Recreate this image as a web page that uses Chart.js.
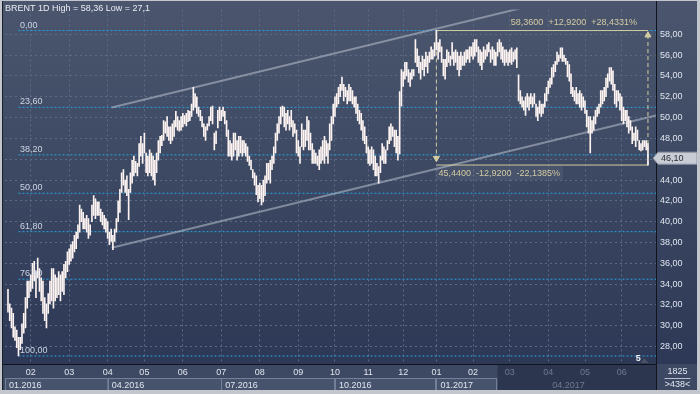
<!DOCTYPE html>
<html><head><meta charset="utf-8">
<script src="https://cdn.jsdelivr.net/npm/chart.js@4/dist/chart.umd.min.js"></script>
<style>html,body{margin:0;padding:0;background:#c3c7cd;}#wrap{width:700px;height:394px;position:relative;}</style>
</head><body><div id="wrap"><canvas id="c" width="700" height="394"></canvas></div>
<script>
// ---- daily bar highs (Jan 2016 .. Jun 2017), one line per month ----
const highs = [
33.5,32.1,31.7,31.2,29.9,29.6,28.9,28.9,30.2,31.2,32.7,34.3,34.3,
34.9,36.0,36.2,35.2,36.5,35.5,34.6,34.3,32.7,32.1,33.1,34.3,35.5,35.5,34.9,34.6,35.2,34.9,35.2,35.9,36.2,37.1,
37.4,37.8,38.1,38.7,39.0,39.7,41.6,41.2,40.9,40.3,40.6,40.3,39.7,41.6,42.5,42.2,41.9,41.9,41.2,40.9,40.6,40.3,
40.0,39.0,39.3,38.7,39.3,40.3,42.0,43.1,44.7,45.0,44.0,44.4,43.1,44.7,45.9,46.3,45.8,45.6,47.5,48.2,47.5,
48.5,46.6,46.3,46.9,46.6,46.3,45.9,46.6,47.8,48.2,48.3,49.7,49.6,50.1,49.1,49.1,49.4,49.7,50.6,50.1,49.7,50.1,
50.4,50.2,50.4,50.7,50.6,51.3,52.9,52.3,52.0,51.0,50.7,50.1,49.4,49.1,49.4,50.1,51.0,51.1,48.5,48.7,50.7,51.0,
50.7,51.0,50.6,49.7,48.8,47.8,47.5,48.5,48.5,47.8,48.2,48.2,47.8,47.8,47.5,47.2,46.3,45.9,45.0,44.7,44.4,43.5,
43.7,43.5,44.0,44.4,45.6,45.6,45.9,46.3,47.2,48.5,49.4,50.1,51.0,51.1,51.0,50.4,50.7,50.1,50.7,49.7,49.4,48.8,
47.8,47.2,49.4,48.8,48.8,50.1,49.7,48.5,47.5,46.9,46.6,46.3,46.9,47.2,47.8,48.2,47.8,47.5,49.4,50.1,51.3,
52.0,52.3,52.9,53.2,53.9,53.2,52.9,52.6,53.2,52.9,52.6,52.0,52.0,51.3,50.7,50.4,49.7,49.1,48.2,
47.2,46.9,47.2,46.9,46.3,45.6,45.3,46.3,47.5,47.2,46.9,47.8,49.1,49.4,49.1,48.8,48.8,48.2,52.5,54.6,
54.4,55.3,55.3,54.6,54.3,54.6,54.6,57.5,56.6,55.9,55.3,55.9,55.6,56.3,55.9,56.3,56.8,56.5,57.2,
58.36,57.2,57.5,56.8,55.6,55.6,56.5,56.3,55.9,57.2,56.3,56.5,56.3,55.9,56.3,55.9,56.3,56.5,56.5,56.8,56.8,
57.2,57.5,57.5,56.8,56.5,56.3,56.8,56.5,57.0,57.2,56.5,56.8,56.5,56.3,57.2,57.5,57.2,56.8,56.5,56.5,56.3,
56.5,56.7,56.3,56.5,56.7,54.1,52.6,52.0,51.6,52.0,52.3,52.0,52.3,52.0,52.3,51.3,51.0,51.6,51.3,51.3,52.3,52.9,
53.5,53.8,54.8,55.1,55.4,56.3,56.0,56.7,56.7,56.0,55.7,55.4,55.1,54.2,52.9,52.6,52.9,52.3,52.6,52.3,52.0,
51.6,50.7,50.1,50.1,49.7,50.1,50.7,51.0,51.3,52.6,52.6,52.9,53.8,54.2,54.8,54.8,54.5,53.2,52.6,52.6,52.3,
52.0,51.0,50.7,50.7,50.1,49.7,49.1,48.5,49.1,48.8,47.8,47.5,47.8,47.8,47.8,47.5
];
// ---- daily bar lows ----
const lows = [
31.3,30.5,29.8,28.9,28.6,27.9,27.1,27.7,28.3,29.3,29.8,31.7,32.7,
33.3,33.6,34.3,32.7,34.6,33.3,32.4,31.2,30.5,29.8,31.2,32.1,32.4,31.7,32.4,32.7,33.0,32.4,33.3,33.0,34.6,35.2,
35.9,36.2,36.5,37.1,37.4,38.4,39.0,40.0,39.3,39.3,39.0,38.4,38.7,40.0,40.6,40.3,40.6,40.6,40.0,39.7,39.3,39.0,
38.4,37.8,38.1,37.3,38.1,39.0,40.0,40.9,42.8,43.5,42.8,42.5,40.2,42.8,43.7,44.4,44.7,44.4,45.3,46.3,45.6,
46.6,44.7,44.4,44.7,44.4,44.0,43.5,44.7,45.9,46.6,47.3,47.8,48.5,48.2,47.8,47.5,47.8,48.2,49.1,48.8,48.7,48.8,
49.1,49.4,49.2,49.6,49.7,50.1,50.7,51.0,50.4,50.1,49.7,49.1,48.2,47.8,48.8,49.2,49.7,49.4,46.9,47.5,49.0,49.7,
49.7,50.1,49.4,48.2,46.3,46.3,45.9,46.3,46.9,45.9,46.3,46.6,46.3,46.6,46.3,45.8,45.4,45.0,44.2,43.5,42.6,41.9,
42.2,41.6,41.9,42.5,43.7,44.0,43.7,45.0,45.6,46.6,47.8,48.5,49.4,50.1,49.1,48.8,49.4,48.8,49.1,48.2,48.5,46.6,
46.3,45.6,47.2,46.9,47.2,47.8,46.9,46.9,45.6,45.6,45.6,45.4,45.0,45.6,45.9,45.6,46.3,45.6,46.9,47.8,49.4,
50.1,51.0,51.3,52.0,52.6,51.6,52.0,51.3,51.6,51.6,51.3,51.0,50.4,49.7,49.4,48.8,47.8,47.5,46.6,
45.6,45.4,45.6,45.0,44.4,44.4,43.7,44.7,45.9,45.6,45.6,46.9,47.5,47.8,48.2,47.2,46.6,45.9,46.5,51.1,
53.0,53.7,54.0,53.4,53.0,53.7,54.0,55.3,54.9,54.3,53.7,54.6,54.0,54.9,54.3,55.3,55.6,55.6,55.9,
56.5,55.6,56.3,55.3,54.0,53.7,54.9,55.3,55.0,55.6,55.0,55.3,54.6,54.0,54.6,55.0,55.0,55.3,55.6,55.3,55.9,
55.6,55.9,56.3,55.3,55.0,54.6,55.3,55.6,55.9,56.3,55.3,55.6,55.0,55.0,55.9,56.3,55.6,55.3,55.0,55.3,55.0,
55.3,55.1,55.4,55.6,54.8,51.6,51.3,51.0,50.7,50.2,51.0,50.7,51.3,51.0,51.3,50.1,49.7,50.4,50.1,50.4,51.0,51.6,
52.3,52.9,53.2,53.9,54.4,55.1,55.4,55.7,55.4,55.4,55.1,53.9,53.5,52.3,52.0,51.6,51.3,51.3,51.0,50.7,51.0,
50.4,49.1,48.5,46.6,48.5,48.8,49.4,50.1,50.4,51.0,51.3,51.6,52.0,52.9,53.5,53.2,52.6,51.3,51.0,51.6,50.7,
49.7,49.4,49.7,49.1,48.5,48.8,47.5,47.8,47.2,47.8,46.9,46.8,46.9,47.2,46.9,45.44
];
const lastPrice = 46.10;

// ---- axis ticks ----
const monthTickIdx = [13,35,57,78,100,122,144,166,187,206,226,245,266,287,309,330,351];
const monthTickLabels = ['02','03','04','05','06','07','08','09','10','11','12','01','02','03','04','05','06'];
const quarterTickIdx = [-1.71,57,122,187,245,309];
const quarterTickLabels = ['01.2016','04.2016','07.2016','10.2016','01.2017','04.2017'];
const priceTicks = [28,30,32,34,36,38,40,42,44,46,48,50,52,54,56,58];
const shadeStartIdx = 280;

// ---- Fibonacci retracement ----
const fibHigh = 58.36, fibLow = 27.1, fibStartIdx = 6;
const fibPercents = [0, 23.6, 38.2, 50, 61.8, 76.4, 100];
const fibLabels = ['0,00','23,60','38,20','50,00','61,80','76,40','100,00'];

// ---- trend channel (bar index, price) ----
const channelIdx = [59.3, 370.6];
const channelUpper = [50.96, 63.66];
const channelLower = [37.5, 50.2];

// ---- measurement tool ----
const measureIdx = [245, 366];
const measurePrices = [58.36, 45.44];
const measureTopText = '58,3600  +12,9200  +28,4331%';
const measureBottomText = '45,4400  -12,9200  -22,1385%';

const title = 'BRENT 1D High = 58,36 Low = 27,1';
const cornerTop = '1825', cornerBottom = '>438<';

const xMin = -1.71, xMax = 370.6, yMin = 26.33, yMax = 60.39;
const FONT = "'Liberation Sans',Arial,sans-serif";
const FS = 9;
const BRIGHT = '#dfe5ef', DIM = '#6f7a92', KHAKI = '#d2cca2';

const fibPrices = fibPercents.map(p => fibHigh - (fibHigh - fibLow) * p / 100);

const datasets = [];
datasets.push({
  type: 'bar', label: 'bars',
  data: highs.map((h, i) => ({x: i, y: [lows[i], h]})),
  backgroundColor: '#fdf4f2', borderWidth: 0, barThickness: 1, order: 0
});
fibPrices.forEach(p => datasets.push({
  type: 'line', data: [{x: fibStartIdx, y: p}, {x: xMax, y: p}],
  borderColor: '#27a2e4', borderWidth: 1, borderDash: [2, 2], pointRadius: 0, order: 6
}));
[channelUpper, channelLower].forEach(c => datasets.push({
  type: 'line', data: channelIdx.map((x, k) => ({x, y: c[k]})),
  borderColor: 'rgba(200,206,218,0.5)', borderWidth: 2, pointRadius: 0, order: 5
}));
measurePrices.forEach(p => datasets.push({
  type: 'line', data: measureIdx.map(x => ({x, y: p})),
  borderColor: KHAKI, borderWidth: 1, pointRadius: 0, order: 2
}));
datasets.push({
  type: 'line', data: [{x: measureIdx[0], y: measurePrices[0]}, {x: measureIdx[0], y: lastPrice}],
  borderColor: KHAKI, borderWidth: 1, borderDash: [4, 3],
  pointRadius: [0, 3.5], pointStyle: 'triangle', rotation: [0, 180],
  pointBackgroundColor: KHAKI, pointBorderColor: KHAKI, order: 2
});
datasets.push({
  type: 'line', data: [{x: measureIdx[1], y: measurePrices[1]}, {x: measureIdx[1], y: measurePrices[0] - 0.45}],
  borderColor: KHAKI, borderWidth: 1, borderDash: [4, 3],
  pointRadius: [0, 3.5], pointStyle: 'triangle', rotation: [0, 0],
  pointBackgroundColor: KHAKI, pointBorderColor: KHAKI, order: 2
});

const decor = {
  id: 'decor',
  beforeDraw(chart) {
    const {ctx, chartArea: ca} = chart;
    const xs = chart.scales.x;
    ctx.save();
    ctx.fillStyle = '#c3c7cd';
    ctx.fillRect(0, 0, 700, 394);
    const g = ctx.createLinearGradient(0, 0, 0, ca.bottom);
    g.addColorStop(0, '#4b566e');
    g.addColorStop(0.5, '#3c4862');
    g.addColorStop(1, '#2c3855');
    ctx.fillStyle = g;
    ctx.fillRect(3, 1, 694, ca.bottom - 1);
    const shadeX = xs.getPixelForValue(shadeStartIdx);
    ctx.fillStyle = '#3d4963';
    ctx.fillRect(3, ca.bottom, 694, 26);
    ctx.fillStyle = '#2c364e';
    ctx.fillRect(shadeX, ca.bottom, ca.right - shadeX, 26);
    for (let k = 0; k < quarterTickIdx.length; k++) {
      const x0 = Math.max(ca.left, xs.getPixelForValue(quarterTickIdx[k]));
      if (x0 >= shadeX) continue;
      const x1 = k + 1 < quarterTickIdx.length ? Math.min(shadeX, xs.getPixelForValue(quarterTickIdx[k + 1])) : shadeX;
      ctx.fillStyle = '#47536d';
      ctx.fillRect(x0, ca.bottom + 14, x1 - x0, 12);
      ctx.strokeStyle = '#74809a';
      ctx.lineWidth = 1;
      ctx.strokeRect(Math.round(x0) + 0.5, ca.bottom + 14.5, Math.round(x1 - x0) - 1, 12);
    }
    ctx.restore();
  },
  afterDatasetsDraw(chart) {
    const {ctx} = chart;
    const xs = chart.scales.x, ys = chart.scales.y;
    ctx.save();
    ctx.font = FS + 'px ' + FONT;
    ctx.textAlign = 'left';
    ctx.textBaseline = 'alphabetic';
    ctx.fillStyle = '#cdd5e4';
    fibPrices.forEach((p, k) => {
      ctx.fillText(fibLabels[k], xs.getPixelForValue(fibStartIdx) + 1.5, ys.getPixelForValue(p) - 3);
    });
    ctx.textBaseline = 'middle';
    ctx.fillStyle = KHAKI;
    ctx.textAlign = 'right';
    ctx.fillText(measureTopText, xs.getPixelForValue(measureIdx[1]) - 11, ys.getPixelForValue(measurePrices[0]) - 8);
    ctx.textAlign = 'left';
    const bx = xs.getPixelForValue(measureIdx[0]) + 2;
    const by = ys.getPixelForValue(measurePrices[1]) + 8;
    const w = ctx.measureText(measureBottomText).width;
    ctx.fillStyle = 'rgba(255,255,255,0.06)';
    ctx.fillRect(bx - 3, by - 7, w + 6, 14);
    ctx.fillStyle = KHAKI;
    ctx.fillText(measureBottomText, bx, by);
    ctx.fillStyle = '#e8ecf3';
    ctx.fillText(title, 5, 8.5);
    ctx.font = 'bold ' + FS + 'px ' + FONT;
    ctx.fillStyle = '#f2f4f8';
    ctx.fillText('5', xs.getPixelForValue(359), chart.chartArea.bottom - 5);
    ctx.fillStyle = '#4b5062';
    const tx = xs.getPixelForValue(364);
    const tyb = chart.chartArea.bottom - 1;
    ctx.beginPath(); ctx.moveTo(tx - 4, tyb); ctx.lineTo(tx, tyb - 5); ctx.lineTo(tx + 4, tyb); ctx.closePath(); ctx.fill();
    ctx.restore();
  },
  afterDraw(chart) {
    const {ctx, chartArea: ca} = chart;
    const ys = chart.scales.y;
    ctx.save();
    // axis borders (solid black)
    ctx.fillStyle = '#10141c';
    ctx.fillRect(3, ca.bottom, ca.right - 3, 1);
    ctx.fillRect(ca.right, 1, 1, ca.bottom + 26);
    // price tag
    const y = ys.getPixelForValue(lastPrice);
    const l = ys.left;
    ctx.beginPath();
    ctx.moveTo(l - 3, y);
    ctx.lineTo(l + 2, y - 6);
    ctx.lineTo(697, y - 6);
    ctx.lineTo(697, y + 6);
    ctx.lineTo(l + 2, y + 6);
    ctx.closePath();
    ctx.fillStyle = '#c8cdd5';
    ctx.fill();
    ctx.strokeStyle = '#8e95a4';
    ctx.lineWidth = 1;
    ctx.stroke();
    ctx.font = FS + 'px ' + FONT;
    ctx.fillStyle = '#2a2e37';
    ctx.textAlign = 'left';
    ctx.textBaseline = 'middle';
    ctx.fillText(lastPrice.toFixed(2).replace('.', ','), l + 5, y + 0.5);
    ctx.fillStyle = BRIGHT;
    ctx.textAlign = 'center';
    const cx = (ca.right + 697) / 2 + 1;
    ctx.fillText(cornerTop, cx, ca.bottom + 8);
    ctx.fillText(cornerBottom, cx, ca.bottom + 20.5);
    ctx.strokeStyle = '#b8c0d0';
    ctx.beginPath(); ctx.moveTo(cx - 13, ca.bottom + 14.5); ctx.lineTo(cx + 13, ca.bottom + 14.5); ctx.stroke();
    ctx.fillStyle = '#c3c7cd';
    ctx.fillRect(0, 0, 2, 394);
    ctx.fillRect(697, 0, 3, 394);
    ctx.fillRect(0, 390, 700, 4);
    ctx.fillRect(0, 0, 700, 1);
    ctx.fillStyle = '#1a1f2a';
    ctx.fillRect(2, 1, 1, 389);
    ctx.restore();
  }
};

new Chart(document.getElementById('c'), {
  type: 'bar',
  data: {datasets},
  options: {
    responsive: false, animation: false, devicePixelRatio: 1,
    layout: {padding: {left: 3, top: 4, right: 3, bottom: 4}},
    plugins: {legend: {display: false}, tooltip: {enabled: false}},
    scales: {
      x: {
        type: 'linear', position: 'bottom', min: xMin, max: xMax, offset: false, weight: 0,
        afterBuildTicks: s => { s.ticks = monthTickIdx.map(v => ({value: v})); },
        afterFit: s => { s.height = 14; },
        grid: {color: '#5d6a84', lineWidth: 1, drawTicks: false, offset: false},
        border: {display: false, dash: [2, 3]},
        ticks: {
          autoSkip: false, maxRotation: 0, minRotation: 0, padding: 3,
          font: {family: FONT, size: FS},
          color: c => (c.tick && c.tick.value >= shadeStartIdx) ? DIM : BRIGHT,
          callback: (v, i) => monthTickLabels[i]
        }
      },
      x2: {
        type: 'linear', position: 'bottom', min: xMin, max: xMax, offset: false, weight: 1,
        afterBuildTicks: s => { s.ticks = quarterTickIdx.map(v => ({value: v})); },
        afterFit: s => { s.height = 12; },
        grid: {display: false, drawTicks: false},
        border: {display: false},
        ticks: {
          autoSkip: false, maxRotation: 0, minRotation: 0, padding: 2, align: 'start', labelOffset: 4,
          font: {family: FONT, size: FS},
          color: c => (c.tick && c.tick.value >= shadeStartIdx) ? DIM : BRIGHT,
          callback: (v, i) => quarterTickLabels[i]
        }
      },
      y: {
        type: 'linear', position: 'right', min: yMin, max: yMax,
        afterBuildTicks: s => { s.ticks = priceTicks.map(v => ({value: v})); },
        afterFit: s => { s.width = 41; },
        grid: {color: '#5d6a84', lineWidth: 1, drawTicks: false},
        border: {display: false, dash: [2, 3]},
        ticks: {
          padding: 4, font: {family: FONT, size: FS}, color: BRIGHT,
          callback: v => Number(v).toFixed(2).replace('.', ',')
        }
      }
    }
  },
  plugins: [decor]
});
</script></body></html>
